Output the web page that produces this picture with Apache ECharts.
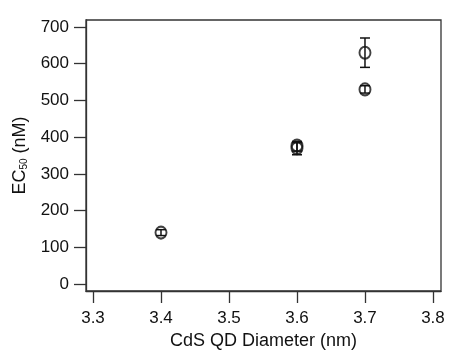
<!DOCTYPE html>
<html><head><meta charset="utf-8">
<script src="https://cdn.jsdelivr.net/npm/echarts@6/dist/echarts.min.js"></script>
<style>html,body{margin:0;padding:0;background:#fff}#c{width:453px;height:355px}</style>
</head><body><div id="c"></div>
<script>
const diameters = [3.4, 3.6, 3.6, 3.7, 3.7];
const ec50 = [140, 377, 370, 630, 530];
const errLow = [132, 362, 352, 590, 520];
const errHigh = [148, 385, 388, 670, 540];
const xTicks = [3.3, 3.4, 3.5, 3.6, 3.7, 3.8];
const yTicks = [0, 100, 200, 300, 400, 500, 600, 700];

const points = diameters.map((d, i) => [d, ec50[i]]);
const errs = diameters.map((d, i) => [d, errLow[i], errHigh[i]]);
const ink = '#111';
const chart = echarts.init(document.getElementById('c'));
chart.setOption({
  animation: false,
  grid: {left: 86, top: 20, right: 12, bottom: 64, show: true, borderColor: '#333', borderWidth: 1.3},
  xAxis: {
    type: 'value', min: 3.2897, max: 3.8118,
    name: 'CdS QD Diameter (nm)', nameLocation: 'middle', nameGap: 40,
    nameTextStyle: {fontFamily: 'Liberation Sans', fontSize: 18, color: ink},
    axisLine: {show: true, onZero: false, lineStyle: {color: '#333', width: 1.3}},
    axisTick: {show: true, inside: false, length: 12, customValues: xTicks, lineStyle: {color: '#333', width: 1.3}},
    axisLabel: {customValues: xTicks, margin: 19, fontFamily: 'Liberation Sans', fontSize: 17, color: ink,
      formatter: v => v.toFixed(1)},
    splitLine: {show: false}
  },
  yAxis: {
    type: 'value', min: -19, max: 719,
    name: '{n|EC}{s|50}{n| (nM)}', nameLocation: 'middle', nameGap: 49, nameRotate: 90,
    nameTextStyle: {rich: {
      n: {fontFamily: 'Liberation Sans', fontSize: 18, color: ink},
      s: {fontFamily: 'Liberation Sans', fontSize: 10, color: ink, verticalAlign: 'bottom', padding: [10, 0, 0, 0]}
    }},
    axisLine: {show: true, onZero: false, lineStyle: {color: '#333', width: 1.3}},
    axisTick: {show: true, inside: false, length: 12, customValues: yTicks, lineStyle: {color: '#333', width: 1.3}},
    axisLabel: {customValues: yTicks, margin: 17, fontFamily: 'Liberation Sans', fontSize: 17, color: ink},
    splitLine: {show: false}
  },
  series: [
    {
      type: 'custom',
      data: errs,
      renderItem: function (params, api) {
        const x = api.value(0);
        const lo = api.coord([x, api.value(1)]);
        const hi = api.coord([x, api.value(2)]);
        const w = 5;
        const st = {stroke: ink, lineWidth: 1.5};
        return {type: 'group', children: [
          {type: 'line', shape: {x1: lo[0], y1: lo[1], x2: hi[0], y2: hi[1]}, style: st},
          {type: 'line', shape: {x1: lo[0]-w, y1: lo[1], x2: lo[0]+w, y2: lo[1]}, style: st},
          {type: 'line', shape: {x1: hi[0]-w, y1: hi[1], x2: hi[0]+w, y2: hi[1]}, style: st}
        ]};
      },
      z: 3
    },
    {
      type: 'scatter', data: points, symbol: 'circle', symbolSize: [11, 12],
      itemStyle: {color: 'rgba(255,255,255,0)', borderColor: ink, borderWidth: 2}, z: 2
    }
  ]
});
</script></body></html>
